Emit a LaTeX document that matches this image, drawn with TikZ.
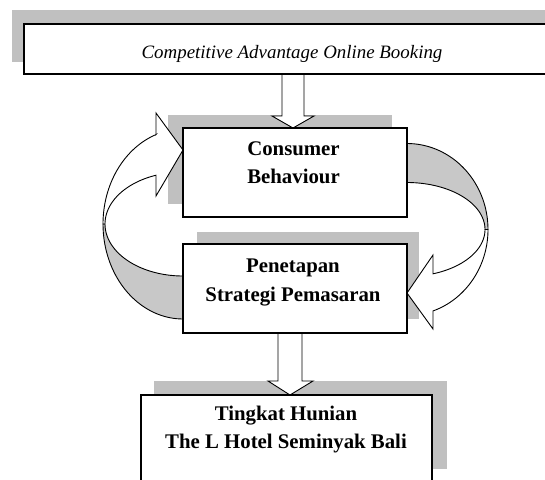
\documentclass[tikz,border=0pt]{standalone}
\usepackage{fontspec}
\setmainfont{Liberation Serif}
\usetikzlibrary{calc}
\pgfdeclarelayer{shadowlayer}
\pgfdeclarelayer{arrowlayer}
\pgfsetlayers{shadowlayer,arrowlayer,main}
\definecolor{shadowgray}{RGB}{192,192,192}
\definecolor{bandgray}{RGB}{200,200,200}
\begin{document}
\begin{tikzpicture}[x=1pt,y=-1pt,
  box/.style={draw=black,line width=1.2pt,fill=white,inner sep=0pt,outer sep=0pt},
  boxshadow/.style={fill=shadowgray},
  blockarrow/.style={draw=black,line width=0.9pt,fill=white,line join=miter},
  bandfront/.style={draw=black,line width=0.9pt,fill=white,line join=miter},
  bandback/.style={draw=black,line width=0.9pt,fill=bandgray,line join=miter},
  boxlabel/.style={anchor=base,inner sep=0pt,font=\bfseries\fontsize{20.8}{24}\selectfont},
  toplabel/.style={anchor=base,inner sep=0pt,font=\itshape\fontsize{18.9}{22}\selectfont}]
\useasboundingbox (0,0) rectangle (545,479);
\clip (0,0) rectangle (545,479);

% boxes
\node[box,minimum width=536pt,minimum height=50pt] (top) at (292,49) {};
\node[box,minimum width=224pt,minimum height=89pt] (cons) at (295,172.5) {};
\node[box,minimum width=224pt,minimum height=89pt] (pen) at (295,288.5) {};
\node[box,minimum width=291pt,minimum height=89pt] (occ) at (286.5,439.5) {};

% texts
\node[toplabel] (toptext) at (292,58) {Competitive Advantage Online Booking};
\node[boxlabel] (cons1) at (293.5,155) {Consumer};
\node[boxlabel] (cons2) at (293.5,183) {Behaviour};
\node[boxlabel] (pen1) at (293,272) {Penetapan};
\node[boxlabel] (pen2) at (293,301) {Strategi Pemasaran};
\node[boxlabel] (occ1) at (286,420) {Tingkat Hunian};
\node[boxlabel] (occ2) at (286,448) {The L Hotel Seminyak Bali};

% drop shadows
\begin{pgfonlayer}{shadowlayer}
  \fill[boxshadow] ($(top.north west)+(-12,-14)$) rectangle ($(top.south east)+(-12,-12)$);
  \fill[boxshadow] ($(cons.north west)+(-15,-13)$) rectangle ($(cons.south east)+(-15,-13)$);
  \fill[boxshadow] ($(pen.north west)+(14,-12)$) rectangle ($(pen.south east)+(12,-14)$);
  \fill[boxshadow] ($(occ.north west)+(13,-14)$) rectangle ($(occ.south east)+(15,-15)$);
\end{pgfonlayer}

\begin{pgfonlayer}{arrowlayer}
  % straight block arrows
  \coordinate (axisA) at (293,0);
  \coordinate (axisB) at (290,0);
  \path (top.south -| axisA) coordinate (a1s) (cons.north -| axisA) coordinate (a1e);
  \path (pen.south -| axisB) coordinate (a2s) (occ.north -| axisB) coordinate (a2e);
  \filldraw[blockarrow] ($(a1s)+(-11,0)$) -- ($(a1e)+(-11,-12)$) -- ($(a1e)+(-21,-12)$)
    -- (a1e) -- ($(a1e)+(21,-12)$) -- ($(a1e)+(11,-12)$) -- ($(a1s)+(11,0)$) -- cycle;
  \filldraw[blockarrow] ($(a2s)+(-12,0)$) -- ($(a2e)+(-12,-14)$) -- ($(a2e)+(-22,-14)$)
    -- (a2e) -- ($(a2e)+(23,-14)$) -- ($(a2e)+(12,-14)$) -- ($(a2s)+(12,0)$) -- cycle;

  % left curved arrow: back of the band
  \filldraw[bandback]
    plot[domain=180:90,samples=40] ({183+80*cos(\x)},{224+95*sin(\x)})
    -- plot[domain=90:180,samples=40] ({183+78*cos(\x)},{224+52*sin(\x)}) -- cycle;
  % left curved arrow: front of the band with head
  \filldraw[bandfront] (156,134.6)
    -- plot[domain=250.3:180,samples=40] ({183+80*cos(\x)},{224+95*sin(\x)})
    -- plot[domain=180:249.75,samples=40] ({183+78*cos(\x)},{224+52*sin(\x)})
    -- (156,196) coordinate (lbarb2) -- (cons.west |- 0,150) coordinate (ltip)
    -- (156,113) coordinate (lbarb1) -- cycle;

  % right curved arrow: back of the band
  \filldraw[bandback]
    plot[domain=270:360,samples=40] ({407+81*cos(\x)},{229.5+86*sin(\x)})
    -- plot[domain=360:270,samples=40] ({407+78*cos(\x)},{229.5+47*sin(\x)}) -- cycle;
  % right curved arrow: front of the band with head
  \filldraw[bandfront]
    plot[domain=0:71.3,samples=40] ({407+81*cos(\x)},{229.5+86*sin(\x)})
    -- (433,329) coordinate (rbarb2) -- (pen.east |- 0,293) coordinate (rtip)
    -- (433,255) coordinate (rbarb1)
    -- plot[domain=70.5:0,samples=40] ({407+78*cos(\x)},{229.5+47*sin(\x)}) -- cycle;
\end{pgfonlayer}
\end{tikzpicture}
\end{document}
